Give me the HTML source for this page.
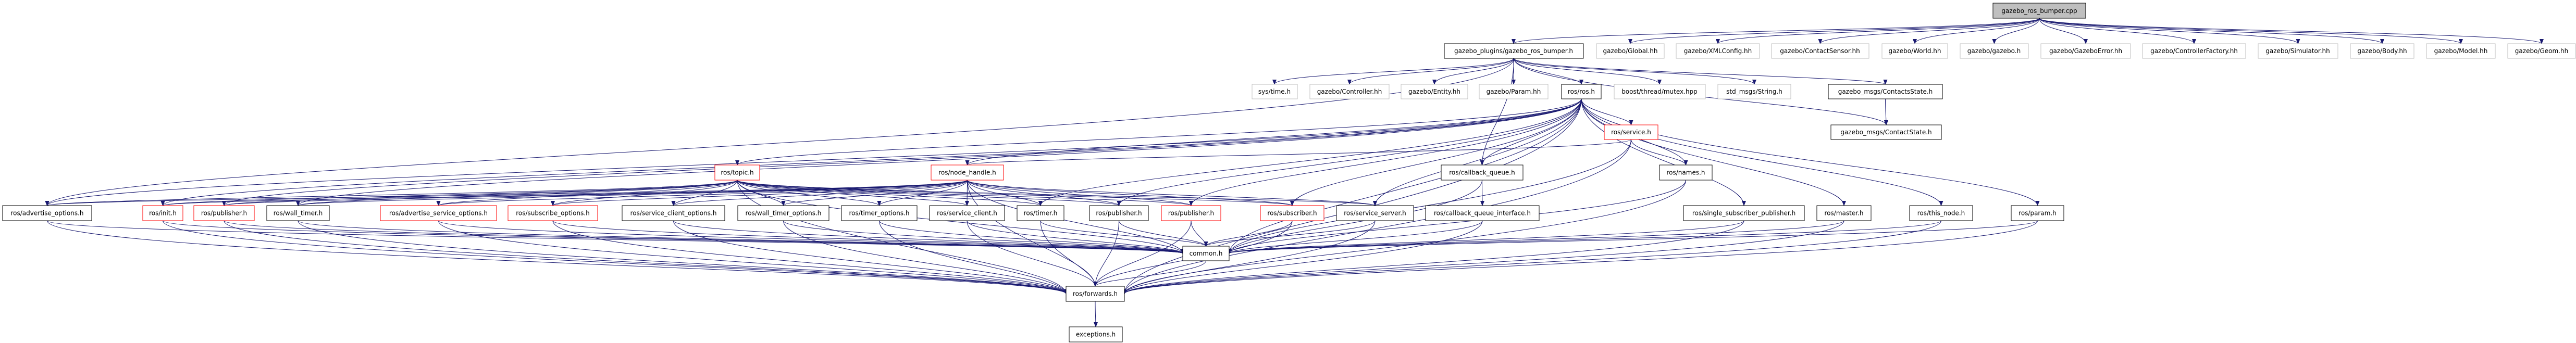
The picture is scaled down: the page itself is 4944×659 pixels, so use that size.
<!DOCTYPE html>
<html><head><meta charset="utf-8"><style>
html,body{margin:0;padding:0;background:#fff;}
svg{display:block;}
text{font-family:"DejaVu Sans","Liberation Sans",sans-serif;font-size:12px;fill:#000;}
</style></head><body>
<svg id="g" width="4944" height="659" xmlns="http://www.w3.org/2000/svg">
<defs><marker id="a" markerWidth="10" markerHeight="8" refX="9" refY="4" orient="auto" markerUnits="userSpaceOnUse"><path d="M0,0 L10,4 L0,8 z" fill="#191970"/></marker></defs>
<g id="edges" fill="none" stroke="#191970" stroke-width="1"></g>
<g id="nodes">
<rect x="3825" y="6" width="178" height="29" fill="#bfbfbf" stroke="#000"/><text x="3914" y="25" text-anchor="middle">gazebo_ros_bumper.cpp</text>
<rect x="2772" y="84" width="267" height="28" fill="#fff" stroke="#000"/><text x="2905" y="102" text-anchor="middle">gazebo_plugins/gazebo_ros_bumper.h</text>
<g stroke="#bfbfbf" fill="#fff">
<rect x="3064" y="84" width="130" height="28"/><rect x="3217" y="84" width="160" height="28"/><rect x="3400" y="84" width="187" height="28"/><rect x="3612" y="84" width="126" height="28"/><rect x="3762" y="84" width="131" height="28"/><rect x="3917" y="84" width="172" height="28"/><rect x="4112" y="84" width="198" height="28"/><rect x="4334" y="84" width="153" height="28"/><rect x="4511" y="84" width="122" height="28"/><rect x="4657" y="84" width="132" height="28"/><rect x="4813" y="84" width="130" height="28"/>
<rect x="2403" y="162" width="87" height="28"/><rect x="2514" y="162" width="152" height="28"/><rect x="2689" y="162" width="128" height="28"/><rect x="2839" y="162" width="132" height="28"/><rect x="3098" y="162" width="175" height="28"/><rect x="3297" y="162" width="140" height="28"/>
</g>
<text x="3129" y="102" text-anchor="middle">gazebo/Global.hh</text>
<text x="3297" y="102" text-anchor="middle">gazebo/XMLConfig.hh</text>
<text x="3493" y="102" text-anchor="middle">gazebo/ContactSensor.hh</text>
<text x="3675" y="102" text-anchor="middle">gazebo/World.hh</text>
<text x="3827" y="102" text-anchor="middle">gazebo/gazebo.h</text>
<text x="4003" y="102" text-anchor="middle">gazebo/GazeboError.hh</text>
<text x="4211" y="102" text-anchor="middle">gazebo/ControllerFactory.hh</text>
<text x="4410" y="102" text-anchor="middle">gazebo/Simulator.hh</text>
<text x="4572" y="102" text-anchor="middle">gazebo/Body.hh</text>
<text x="4723" y="102" text-anchor="middle">gazebo/Model.hh</text>
<text x="4878" y="102" text-anchor="middle">gazebo/Geom.hh</text>
<text x="2446" y="180" text-anchor="middle">sys/time.h</text>
<text x="2590" y="180" text-anchor="middle">gazebo/Controller.hh</text>
<text x="2753" y="180" text-anchor="middle">gazebo/Entity.hh</text>
<text x="2905" y="180" text-anchor="middle">gazebo/Param.hh</text>
<text x="3185" y="180" text-anchor="middle">boost/thread/mutex.hpp</text>
<text x="3367" y="180" text-anchor="middle">std_msgs/String.h</text>
<g id="bn"></g>
</g>
</svg>
<script>
var N={
ros:[2997,162,76,28,'k','ros/ros.h'],
cs:[3509,162,219,28,'k','gazebo_msgs/ContactsState.h'],
c1:[3514,240,212,28,'k','gazebo_msgs/ContactState.h'],
srv:[3079,240,103,28,'r','ros/service.h'],
topic:[1372,317,86,29,'r','ros/topic.h'],
nh:[1787,317,139,29,'r','ros/node_handle.h'],
cq:[2766,317,157,29,'k','ros/callback_queue.h'],
names:[3185,317,101,29,'k','ros/names.h'],
ao:[5,395,171,29,'k','ros/advertise_options.h'],
init:[274,395,77,29,'r','ros/init.h'],
pub1:[372,395,116,29,'r','ros/publisher.h'],
wt:[512,395,120,29,'k','ros/wall_timer.h'],
aso:[730,395,223,29,'r','ros/advertise_service_options.h'],
so:[975,395,172,29,'r','ros/subscribe_options.h'],
sco:[1194,395,197,29,'k','ros/service_client_options.h'],
wto:[1416,395,175,29,'k','ros/wall_timer_options.h'],
to:[1615,395,145,29,'k','ros/timer_options.h'],
sc:[1784,395,144,29,'k','ros/service_client.h'],
tm:[1952,395,90,29,'k','ros/timer.h'],
pub2:[2091,395,113,29,'k','ros/publisher.h'],
pub3:[2229,395,114,29,'r','ros/publisher.h'],
sub:[2419,395,122,29,'r','ros/subscriber.h'],
ss:[2565,395,148,29,'k','ros/service_server.h'],
cqi:[2736,395,218,29,'k','ros/callback_queue_interface.h'],
ssp:[3231,395,232,29,'k','ros/single_subscriber_publisher.h'],
ma:[3487,395,104,29,'k','ros/master.h'],
tn:[3665,395,121,29,'k','ros/this_node.h'],
pa:[3860,395,101,29,'k','ros/param.h'],
com:[2270,473,89,28,'k','common.h'],
fw:[2046,550,112,29,'k','ros/forwards.h'],
ex:[2052,628,102,29,'k','exceptions.h']};
var P={cpp:[3825,6,178,29],bh:[2772,84,267,28]};
var g=[[3064,84,130],[3217,84,160],[3400,84,187],[3612,84,126],[3762,84,131],[3917,84,172],[4112,84,198],[4334,84,153],[4511,84,122],[4657,84,132],[4813,84,130]];
var ns='http://www.w3.org/2000/svg',E=document.getElementById('edges'),B=document.getElementById('bn');
function box(n){return n.length?n:null}
function get(k){return N[k]||P[k]}
function edge(s,t){var a=get(s),b=get(t);var sx=a[0]+a[2]/2,sy=a[1]+a[3],tx=b[0]+b[2]/2,ty=b[1];
 if(b[1]<=a[1]+5){ // same row
  sy=a[1]+a[3]/2;ty=b[1]+b[3]/2;tx=(tx>sx)?b[0]:b[0]+b[2];sx=(tx>sx)?a[0]+a[2]:a[0];}
 else if(Math.abs(tx-sx)>400&&(t=='com'||t=='fw')){ty=b[1]+b[3]/2;tx=(sx<tx)?b[0]:b[0]+b[2];}
 var my=(sy+ty)/2;var p=document.createElementNS(ns,'path');
 p.setAttribute('d','M'+sx+','+sy+' C'+sx+','+my+' '+tx+','+(ty-(ty-sy)*0.3)+' '+tx+','+ty);
 p.setAttribute('marker-end','url(#a)');E.appendChild(p);}
function raw(sx,sy,tx,ty){var p=document.createElementNS(ns,'path');var my=(sy+ty)/2;
 p.setAttribute('d','M'+sx+','+sy+' C'+sx+','+my+' '+tx+','+my+' '+tx+','+ty);p.setAttribute('marker-end','url(#a)');E.appendChild(p);}
// cpp edges
raw(3914,35,2905,84);g.forEach(function(q){raw(3914,35,q[0]+q[2]/2,84)});
[[2446,162],[2590,162],[2753,162],[2905,162],[3185,162],[3367,162]].forEach(function(q){raw(2905,112,q[0],q[1])});
['ros','cs','c1','cq','ao'].forEach(function(t){edge('bh',t)});
edge('cs','c1');
['srv','names','nh','topic','init','pub1','wt','ao','pub3','sub','ss','cq','ssp','ma','tn','pa','com','fw','pub2','tm'].forEach(function(t){edge('ros',t)});
['names','nh','com','fw'].forEach(function(t){edge('srv',t)});
['com','fw'].forEach(function(t){edge('names',t)});
['ao','init','pub1','wt','aso','so','sco','wto','to','sc','tm','pub2','pub3','sub','ss','com','fw'].forEach(function(t){edge('topic',t)});
['ao','init','pub1','wt','aso','so','sco','wto','to','sc','tm','pub2','pub3','sub','ss','com','fw'].forEach(function(t){edge('nh',t)});
['cqi','com'].forEach(function(t){edge('cq',t)});
['ao','init','pub1','wt','aso','so','sco','wto','to','sc','tm','pub2','pub3','sub','ss','cqi','ssp','ma','tn','pa'].forEach(function(k){edge(k,'com');edge(k,'fw')});
edge('com','fw');edge('fw','ex');
for(var k in N){var n=N[k];var r=document.createElementNS(ns,'rect');r.setAttribute('x',n[0]);r.setAttribute('y',n[1]);r.setAttribute('width',n[2]);r.setAttribute('height',n[3]);r.setAttribute('fill','#fff');r.setAttribute('stroke',n[4]=='r'?'#ff0000':'#000');B.appendChild(r);
var t=document.createElementNS(ns,'text');t.setAttribute('x',n[0]+n[2]/2);t.setAttribute('y',n[1]+n[3]/2+4);t.setAttribute('text-anchor','middle');t.textContent=n[5];B.appendChild(t);}
</script>
</body></html>
